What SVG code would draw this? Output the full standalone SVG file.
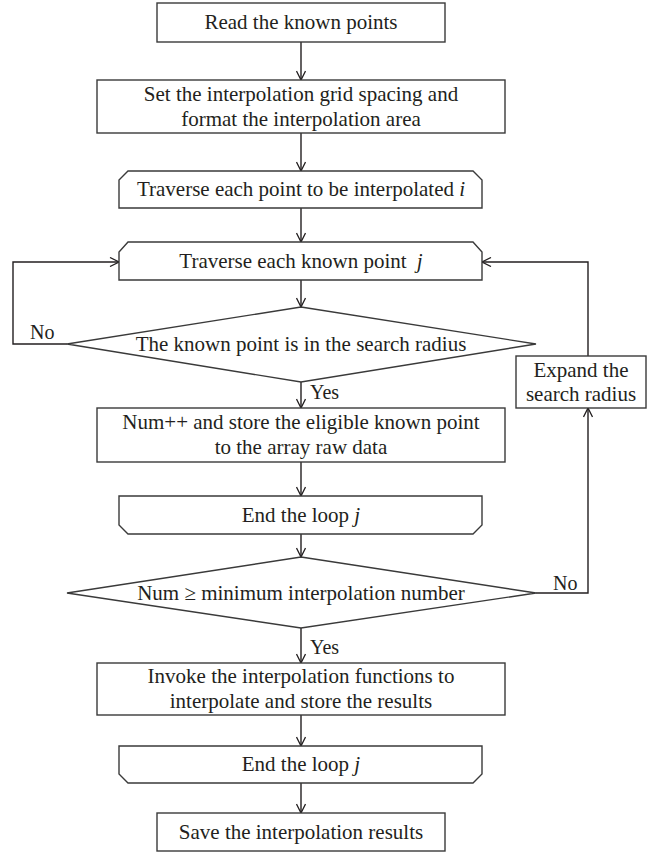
<svg xmlns="http://www.w3.org/2000/svg" width="648" height="852" viewBox="0 0 648 852">
<defs>
<marker id="arr" viewBox="0 0 10 10" refX="10" refY="5" markerWidth="10" markerHeight="10" markerUnits="userSpaceOnUse" orient="auto">
<path d="M1,0.5 L10,5 L1,9.5" fill="none" stroke="#231f20" stroke-width="1.3"/>
</marker>
<style>
.shape{fill:#fff;stroke:#3a3a3a;stroke-width:1.4}
.line{fill:none;stroke:#231f20;stroke-width:1.4}
text{font-family:"Liberation Serif","Times New Roman",serif;font-size:21px;fill:#231f20;text-anchor:middle}
.lbl{font-size:20px;text-anchor:start}
.it{font-style:italic}
</style>
</defs>
<rect width="648" height="852" fill="#fff"/>
<g id="connectors">
<line class="line" x1="301" y1="42" x2="301" y2="80" marker-end="url(#arr)"/>
<line class="line" x1="301" y1="133" x2="301" y2="171" marker-end="url(#arr)"/>
<line class="line" x1="301" y1="208" x2="301" y2="242" marker-end="url(#arr)"/>
<line class="line" x1="301" y1="280" x2="301" y2="307" marker-end="url(#arr)"/>
<line class="line" x1="301" y1="382" x2="301" y2="408" marker-end="url(#arr)"/>
<line class="line" x1="301" y1="462" x2="301" y2="496" marker-end="url(#arr)"/>
<line class="line" x1="301" y1="534" x2="301" y2="557" marker-end="url(#arr)"/>
<line class="line" x1="301" y1="628" x2="301" y2="663" marker-end="url(#arr)"/>
<line class="line" x1="301" y1="715" x2="301" y2="746" marker-end="url(#arr)"/>
<line class="line" x1="301" y1="783" x2="301" y2="813" marker-end="url(#arr)"/>
<polyline class="line" points="67,344 13,344 13,262 119,262" marker-end="url(#arr)"/>
<polyline class="line" points="536,593 588,593 588,408" marker-end="url(#arr)"/>
<polyline class="line" points="588,356 588,262 482,262" marker-end="url(#arr)"/>
<text class="lbl" x="30" y="339">No</text>
<text class="lbl" x="310" y="399">Yes</text>
<text class="lbl" x="553" y="590">No</text>
<text class="lbl" x="310" y="654">Yes</text>
</g>
<g id="read">
<rect class="shape" x="157" y="3" width="288" height="39"/>
<text x="301" y="29">Read the known points</text>
</g>
<g id="setgrid">
<rect class="shape" x="97" y="80" width="408" height="53"/>
<text x="301" y="101">Set the interpolation grid spacing and</text>
<text x="301" y="126">format the interpolation area</text>
</g>
<g id="loopi">
<path class="shape" d="M119,208 L119,180 L128,171 L473,171 L482,180 L482,208 Z"/>
<text x="301" y="196">Traverse each point to be interpolated <tspan class="it">i</tspan></text>
</g>
<g id="loopj">
<path class="shape" d="M119,280 L119,252 L128,242 L473,242 L482,252 L482,280 Z"/>
<text x="301" y="268">Traverse each known point <tspan class="it" dx="5">j</tspan></text>
</g>
<g id="inradius">
<polygon class="shape" points="301,307 536,344 301,382 67,344"/>
<text x="301" y="351">The known point is in the search radius</text>
</g>
<g id="store">
<rect class="shape" x="97" y="408" width="408" height="54"/>
<text x="301" y="429">Num++ and store the eligible known point</text>
<text x="301" y="454">to the array raw data</text>
</g>
<g id="endj1">
<path class="shape" d="M119,496 L482,496 L482,525 L473,534 L128,534 L119,525 Z"/>
<text x="301" y="522">End the loop <tspan class="it">j</tspan></text>
</g>
<g id="minnum">
<polygon class="shape" points="301,557 536,593 301,628 67,593"/>
<text x="301" y="600">Num ≥ minimum interpolation number</text>
</g>
<g id="expand">
<rect class="shape" x="516" y="356" width="130" height="52"/>
<text x="581" y="377">Expand the</text>
<text x="581" y="401">search radius</text>
</g>
<g id="invoke">
<rect class="shape" x="97" y="663" width="408" height="52"/>
<text x="301" y="683">Invoke the interpolation functions to</text>
<text x="301" y="708">interpolate and store the results</text>
</g>
<g id="endj2">
<path class="shape" d="M119,746 L482,746 L482,774 L473,783 L128,783 L119,774 Z"/>
<text x="301" y="771">End the loop <tspan class="it">j</tspan></text>
</g>
<g id="save">
<rect class="shape" x="157" y="813" width="288" height="38"/>
<text x="301" y="839">Save the interpolation results</text>
</g>
</svg>
